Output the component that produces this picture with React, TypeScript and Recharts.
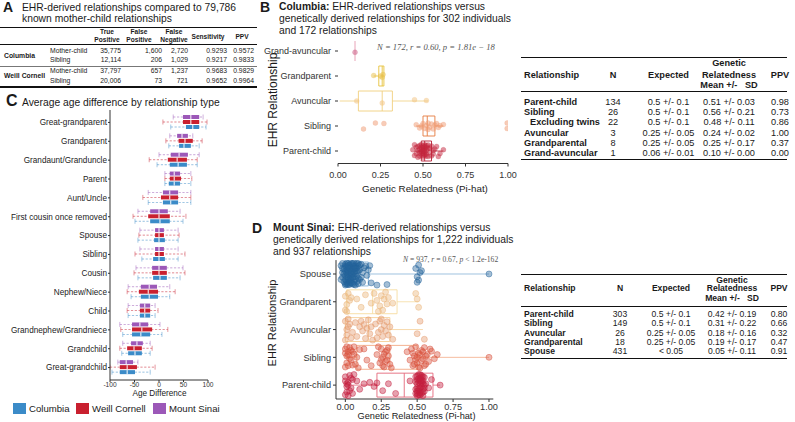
import React from "react";
import {
  ScatterChart,
  Scatter,
  ComposedChart,
  Bar,
  XAxis,
  YAxis,
  ReferenceArea,
  ReferenceLine,
} from "recharts";

// ---------- Panel A: summary table ----------
const aSites = ["Columbia", "Weill Cornell"];
const aRelations = ["Mother-child", "Sibling", "Mother-child", "Sibling"];
const aTruePositive = [35775, 12114, 37797, 20006];
const aFalsePositive = [1600, 206, 657, 73];
const aFalseNegative = [2720, 1029, 1237, 721];
const aSensitivity = ["0.9293", "0.9217", "0.9683", "0.9652"];
const aPpv = ["0.9572", "0.9833", "0.9829", "0.9964"];

// ---------- Panel B: Columbia relatedness ----------
const bCategories = ["Parent-child", "Sibling", "Avuncular", "Grandparent", "Grand-avuncular"];
// [low whisker, q1, median, q3, high whisker]
const bBoxes = [
  [0.45, 0.49, 0.51, 0.55, 0.62],
  [0.46, 0.5, 0.525, 0.57, 0.62],
  [0.01, 0.12, 0.26, 0.32, 0.53],
  [0.21, 0.24, 0.26, 0.27, 0.27],
  [0.1, 0.1, 0.1, 0.1, 0.1],
];
// points: [pi-hat, vertical jitter]
const bParentChild = [
  [0.5, 0.05], [0.49, -0.12], [0.51, 0.18], [0.48, 0.22], [0.52, -0.2], [0.47, 0.02], [0.53, 0.1],
  [0.5, -0.25], [0.46, 0.15], [0.54, -0.05], [0.49, 0.26], [0.51, -0.15], [0.55, 0.2], [0.48, -0.08],
  [0.52, 0.03], [0.5, 0.12], [0.45, -0.18], [0.57, 0.08], [0.49, -0.02], [0.51, 0.25], [0.53, -0.22],
  [0.47, -0.25], [0.56, -0.12], [0.5, 0.2], [0.52, 0.15], [0.48, 0.08], [0.58, 0.18], [0.6, -0.1],
  [0.44, 0.05], [0.51, -0.06], [0.49, 0.15], [0.53, 0.24], [0.46, -0.1], [0.55, -0.2], [0.5, -0.1],
  [0.52, -0.12], [0.62, 0.05], [0.59, -0.22], [0.48, -0.2], [0.51, 0.08], [0.5, 0.0], [0.54, 0.12],
  [0.47, 0.18], [0.56, 0.02], [0.45, 0.25], [0.49, 0.05], [0.52, 0.22], [0.5, -0.18], [0.51, 0.0],
];
const bSibling = [
  [0.15, -0.12], [0.22, 0.12], [0.27, 0.1], [0.46, 0.05], [0.48, -0.08], [0.5, 0.1], [0.51, -0.1],
  [0.52, 0.02], [0.53, 0.12], [0.54, -0.05], [0.55, 0.08], [0.56, -0.12], [0.57, 0.04], [0.58, 0.1],
  [0.59, -0.06], [0.6, 0.02], [0.49, 0.0], [0.53, -0.14], [0.62, 0.06], [0.995, 0.12], [0.995, -0.1],
];
const bAvuncular = [[0.11, 0.0], [0.26, -0.08], [0.45, 0.05], [0.52, 0.02]];
const bGrandparent = [[0.21, 0.02], [0.26, -0.05], [0.265, 0.06], [0.25, 0.0]];
const bGrandAvuncular = [[0.1, -0.05]];
const bPoints = [bParentChild, bSibling, bAvuncular, bGrandparent, bGrandAvuncular];
const bPointColors = ["#c4263d", "#f09a72", "#f2c27e", "#e8c04a", "#c9567f"];
const bBoxColors = ["#b51f35", "#e57c3e", "#f0cf7e", "#e6c23c", "#e59ab0"];

// ---------- Panel C: age difference ----------
const cCategories = [
  "Great-grandparent", "Grandparent", "Grandaunt/Granduncle", "Parent", "Aunt/Uncle",
  "First cousin once removed", "Spouse", "Sibling", "Cousin", "Nephew/Niece", "Child",
  "Grandnephew/Grandniece", "Grandchild", "Great-grandchild",
];
const cColumbia = [
  [24, 55, 69, 82, 96], [20, 41, 51, 65, 82], [-4, 22, 39, 57, 78], [12, 20, 31, 43, 65],
  [-22, 8, 24, 39, 65], [-49, -18, 2, 22, 49], [-43, -10, 0, 12, 39], [-35, -12, 0, 12, 39],
  [-43, -12, 2, 16, 43], [-57, -37, -20, -2, 22], [-63, -39, -29, -18, -8], [-74, -55, -37, -18, 6],
  [-76, -63, -49, -35, -18], [-96, -80, -65, -49, -18],
];
const cWeillCornell = [
  [8, 49, 65, 82, 98], [14, 40, 53, 69, 88], [-20, 18, 37, 57, 78], [12, 22, 31, 45, 67],
  [-33, 4, 22, 39, 65], [-53, -22, 0, 22, 55], [-41, -8, 0, 10, 41], [-49, -8, 0, 10, 53],
  [-51, -14, 0, 16, 53], [-65, -41, -22, -2, 33], [-65, -39, -29, -18, -2], [-78, -55, -35, -14, 18],
  [-80, -65, -51, -35, -14], [-100, -80, -65, -45, -8],
];
const cMountSinai = [
  [29, 49, 65, 82, 90], [22, 37, 47, 59, 69], [0, 24, 41, 59, 82], [12, 22, 31, 43, 65],
  [-22, 8, 22, 39, 65], [-43, -18, 0, 18, 43], [-39, -8, 0, 10, 39], [-39, -8, 0, 10, 39],
  [-47, -14, 0, 16, 49], [-63, -37, -20, -4, 22], [-63, -39, -29, -18, -8], [-80, -55, -39, -22, 2],
  [-74, -57, -45, -33, -18], [-84, -80, -67, -53, -43],
];
const cSites = ["Columbia", "Weill Cornell", "Mount Sinai"];
const cColors = ["#3b8bc8", "#c9202f", "#9c58b8"];
const cTicks = [-100, -50, 0, 50, 100];

// ---------- Panel D: Mount Sinai relatedness ----------
const dCategories = ["Parent-child", "Sibling", "Avuncular", "Grandparent", "Spouse"];
const dBoxes = [
  [0.05, 0.22, 0.41, 0.61, 0.66],
  [0.0, 0.08, 0.31, 0.5, 1.0],
  [0.0, 0.0, 0.16, 0.31, 0.54],
  [0.0, 0.01, 0.19, 0.36, 0.51],
  [0.0, 0.0, 0.02, 0.16, 1.0],
];
const dParentChild = [
  [0.0, 0.3], [0.01, -0.25], [0.02, 0.1], [0.0, -0.35], [0.03, 0.35], [0.01, 0.05], [0.04, -0.1],
  [0.02, -0.38], [0.05, 0.2], [0.03, -0.2], [0.0, 0.15], [0.06, 0.38], [0.01, -0.05], [0.04, 0.25],
  [0.02, 0.0], [0.05, -0.3], [0.08, 0.15], [0.1, -0.15], [0.13, 0.05], [0.17, 0.1], [0.2, -0.05],
  [0.22, 0.08], [0.26, -0.2], [0.3, 0.05], [0.35, -0.3], [0.45, 0.15], [0.49, 0.3], [0.5, -0.3],
  [0.51, 0.1], [0.52, -0.1], [0.53, 0.35], [0.54, -0.38], [0.5, 0.2], [0.51, -0.2], [0.52, 0.25],
  [0.53, -0.05], [0.54, 0.15], [0.55, 0.0], [0.5, 0.05], [0.51, 0.38], [0.52, -0.28], [0.53, 0.18],
  [0.49, -0.15], [0.55, -0.22], [0.5, -0.38], [0.52, 0.05], [0.54, 0.3], [0.51, -0.35], [0.53, 0.1],
  [0.49, 0.12], [0.55, 0.28], [0.5, -0.1], [0.52, 0.38], [0.54, -0.15], [0.51, 0.22], [0.53, -0.3],
  [0.56, 0.05], [0.58, -0.1], [0.6, 0.2], [0.66, 0.0], [0.5, 0.32], [0.52, -0.36], [0.54, 0.05],
  [0.51, -0.12], [0.53, 0.28], [0.55, -0.1], [0.5, -0.22], [0.52, 0.15], [0.49, -0.3], [0.54, -0.25],
];
const dSibling = [
  [0.0, 0.3], [0.01, -0.2], [0.02, 0.1], [0.0, -0.35], [0.03, 0.35], [0.01, 0.05], [0.04, -0.1],
  [0.02, -0.3], [0.05, 0.2], [0.03, -0.05], [0.06, 0.38], [0.0, 0.15], [0.07, -0.25], [0.04, 0.25],
  [0.08, 0.0], [0.02, 0.2], [0.09, -0.38], [0.05, -0.28], [0.01, 0.38], [0.06, 0.12], [0.1, 0.28],
  [0.15, -0.1], [0.13, 0.3], [0.22, 0.1], [0.24, -0.2], [0.25, 0.3], [0.26, 0.0], [0.27, -0.35],
  [0.28, 0.2], [0.29, -0.1], [0.3, 0.35], [0.31, -0.25], [0.27, 0.12], [0.25, -0.08], [0.29, 0.25],
  [0.26, -0.3], [0.28, -0.15], [0.3, 0.05], [0.23, 0.38], [0.32, -0.38], [0.18, -0.3], [0.43, 0.2],
  [0.45, -0.1], [0.46, 0.3], [0.47, -0.3], [0.48, 0.05], [0.49, 0.38], [0.5, -0.2], [0.51, 0.15],
  [0.52, -0.38], [0.53, 0.25], [0.54, -0.05], [0.55, 0.35], [0.56, -0.25], [0.57, 0.1], [0.58, -0.15],
  [0.59, 0.3], [0.5, 0.0], [0.52, 0.1], [0.48, -0.25], [0.54, 0.2], [0.51, -0.35], [0.47, 0.15],
  [0.53, -0.12], [0.56, 0.05], [0.49, -0.08], [0.55, -0.3], [0.6, 0.22], [0.62, -0.05], [0.64, 0.1],
  [1.0, 0.0],
];
const dAvuncular = [
  [0.0, 0.3], [0.01, -0.2], [0.02, 0.1], [0.0, -0.38], [0.03, 0.2], [0.01, 0.0], [0.04, -0.3],
  [0.02, 0.38], [0.05, -0.1], [0.07, 0.25], [0.08, -0.25], [0.1, 0.1], [0.11, 0.3], [0.12, -0.05],
  [0.13, 0.18], [0.14, -0.32], [0.15, 0.05], [0.16, 0.35], [0.17, -0.15], [0.18, 0.1], [0.19, -0.38],
  [0.21, 0.2], [0.23, -0.1], [0.24, 0.3], [0.25, 0.0], [0.26, -0.25], [0.27, 0.15], [0.28, -0.05],
  [0.29, 0.28], [0.3, -0.2], [0.31, 0.1], [0.33, -0.35], [0.25, 0.38], [0.22, -0.3], [0.5, -0.15],
  [0.52, 0.3], [0.55, -0.35],
];
const dGrandparent = [
  [0.0, 0.2], [0.01, -0.1], [0.02, 0.3], [0.0, -0.3], [0.03, 0.05], [0.01, -0.35], [0.04, 0.15],
  [0.08, 0.1], [0.11, -0.2], [0.14, 0.25], [0.18, -0.05], [0.2, 0.3], [0.22, 0.05], [0.24, -0.15],
  [0.25, 0.22], [0.26, -0.3], [0.27, 0.1], [0.28, 0.35], [0.29, -0.08], [0.3, 0.15], [0.23, -0.35],
  [0.33, -0.05], [0.5, 0.1], [0.51, -0.2], [0.49, 0.3],
];
const dSpouse = [
  [0.0, 0.35], [0.01, -0.3], [0.02, 0.1], [0.03, -0.05], [0.0, -0.2], [0.04, 0.25], [0.05, -0.35],
  [0.02, 0.38], [0.06, 0.05], [0.01, 0.15], [0.03, -0.25], [0.07, 0.3], [-0.01, 0.0], [0.04, -0.15],
  [0.08, -0.28], [0.02, -0.38], [0.05, 0.18], [0.09, 0.1], [0.0, 0.28], [0.06, -0.1], [0.03, 0.32],
  [-0.02, -0.12], [0.07, -0.4], [0.01, 0.05], [0.1, -0.2], [0.04, 0.0], [0.08, 0.22], [0.02, -0.22],
  [0.11, 0.35], [0.05, -0.02], [-0.02, 0.2], [0.06, 0.4], [0.09, -0.35], [0.03, 0.12], [0.12, 0.05],
  [0.0, -0.35], [0.07, 0.12], [0.01, -0.1], [0.04, 0.38], [0.1, 0.15], [-0.03, 0.3], [0.05, 0.3],
  [0.08, -0.08], [0.02, 0.22], [0.06, -0.28], [0.03, -0.38], [0.11, -0.12], [0.0, 0.1], [0.09, 0.28],
  [0.07, -0.18], [-0.01, -0.28], [0.04, -0.32], [0.13, 0.22], [0.01, 0.4], [0.06, 0.18], [0.12, -0.3],
  [0.02, 0.0], [0.08, 0.38], [0.05, 0.1], [0.03, -0.15], [-0.02, 0.38], [0.0, -0.05], [0.01, 0.25],
  [0.02, -0.12], [0.03, 0.2], [0.04, -0.22], [0.05, 0.38], [0.06, -0.38], [0.07, 0.0], [0.08, 0.1],
  [0.09, -0.15], [0.1, 0.32], [-0.01, 0.18], [0.0, -0.4], [0.02, 0.3], [0.03, -0.3], [0.05, -0.12],
  [0.06, 0.28], [0.07, 0.22], [0.04, 0.08], [-0.03, -0.2], [-0.02, 0.05], [0.01, -0.38], [0.09, 0.38],
  [0.14, 0.28], [0.15, -0.05], [0.16, 0.15], [0.18, -0.32], [0.17, 0.3], [0.22, -0.4], [0.29, -0.38],
  [0.49, 0.2], [0.5, -0.1], [0.51, 0.32], [0.5, -0.3], [0.52, 0.05], [0.51, -0.22], [0.53, 0.12],
  [1.0, 0.0],
];
const dPoints = [dParentChild, dSibling, dAvuncular, dGrandparent, dSpouse];
const dPointColors = ["#c41e3f", "#d9533e", "#e59a6d", "#eab67a", "#23639a"];
const dBoxColors = ["#e4687a", "#f3a985", "#f5cf97", "#f6dca0", "#86b3d8"];

// ---------- tables B and D ----------
const bRel = ["Parent-child", "Sibling", "Excluding twins", "Avuncular", "Grandparental", "Grand-avuncular"];
const bN = [134, 26, 22, 3, 8, 1];
const bExpected = ["0.5 +/- 0.1", "0.5 +/- 0.1", "0.5 +/- 0.1", "0.25 +/- 0.05", "0.25 +/- 0.05", "0.06 +/- 0.01"];
const bMeanSd = ["0.51 +/- 0.03", "0.56 +/- 0.21", "0.48 +/- 0.11", "0.24 +/- 0.02", "0.25 +/- 0.17", "0.10 +/- 0.00"];
const bPpv = ["0.98", "0.73", "0.86", "1.00", "0.37", "0.00"];

const dRel = ["Parent-child", "Sibling", "Avuncular", "Grandparental", "Spouse"];
const dN = [303, 149, 26, 18, 431];
const dExpected = ["0.5 +/- 0.1", "0.5 +/- 0.1", "0.25 +/- 0.05", "0.25 +/- 0.05", "< 0.05"];
const dMeanSd = ["0.42 +/- 0.19", "0.31 +/- 0.22", "0.18 +/- 0.16", "0.19 +/- 0.17", "0.05 +/- 0.11"];
const dPpv = ["0.80", "0.66", "0.32", "0.47", "0.91"];

const SANS = '"Liberation Sans", Arial, Helvetica, sans-serif';
const SERIF = '"Liberation Serif", "DejaVu Serif", serif';
const AXIS = "#333";

function T({ x, y, size = 10, align = "left", weight = 400, color = "#1a1a1a", family, italic, rotate, children }: any) {
  const tx = align === "left" ? "0" : align === "center" ? "-50%" : "-100%";
  return (
    <div
      style={{
        position: "absolute",
        left: x,
        top: y,
        transform: `translate(${tx}, -50%)${rotate ? ` rotate(${rotate}deg)` : ""}`,
        fontSize: size,
        fontWeight: weight,
        color,
        lineHeight: 0.9,
        whiteSpace: "pre",
        fontFamily: family,
        fontStyle: italic ? "italic" : undefined,
      }}
    >
      {children}
    </div>
  );
}

function Rule({ x, y, w, h = 1, color = "#111" }: any) {
  return <div style={{ position: "absolute", left: x, top: y, width: w, height: h, background: color }} />;
}

// box + whisker drawn on a range bar ([low, high]) of panel C
const boxShape = (key: string, color: string) => (props: any) => {
  const { x, y, width, height, payload } = props;
  const [lo, q1, med, q3, hi] = payload[key + "Stats"];
  const left = Math.min(x, x + width);
  const w = Math.abs(width);
  const px = (v: number) => left + ((v - lo) / (hi - lo)) * w;
  const cy = y + height / 2;
  return (
    <g>
      <line x1={px(lo)} x2={px(hi)} y1={cy} y2={cy} stroke={color} strokeWidth={0.8} strokeDasharray="2.2 1.6" opacity={0.65} />
      <line x1={px(lo)} x2={px(lo)} y1={y - 0.5} y2={y + height + 0.5} stroke={color} strokeWidth={0.7} opacity={0.65} />
      <line x1={px(hi)} x2={px(hi)} y1={y - 0.5} y2={y + height + 0.5} stroke={color} strokeWidth={0.7} opacity={0.65} />
      <rect x={px(q1)} y={y} width={px(q3) - px(q1)} height={height} fill={color} />
      <line x1={px(med)} x2={px(med)} y1={y} y2={y + height} stroke="#fff" strokeWidth={1} />
    </g>
  );
};

// plain single-line category tick (no word wrapping)
const catTick = (size: number) => (props: any) => (
  <text x={props.x} y={props.y} dy="0.355em" textAnchor="end" fontSize={size} fill="#222">
    {props.payload.value}
  </text>
);

function RelatednessPlot(p: any) {
  const { cats, boxes, points, pointColors, boxColors, r, half, xDomain, width, height, margin, xHeight, yWidth, yLine, font, xTickMargin, yTickMargin, ringed } = p;
  return (
    <ScatterChart width={width} height={height} margin={margin}>
      <XAxis
        type="number"
        dataKey="x"
        domain={xDomain}
        allowDataOverflow
        ticks={[0, 0.25, 0.5, 0.75, 1]}
        interval={0}
        tickFormatter={(v: number) => v.toFixed(2)}
        tick={{ fontSize: font, fill: AXIS }}
        tickSize={3}
        tickMargin={xTickMargin}
        axisLine={{ stroke: AXIS }}
        tickLine={{ stroke: AXIS }}
        height={xHeight}
      />
      <YAxis
        type="number"
        dataKey="y"
        domain={[0.5, 5.5]}
        allowDataOverflow
        ticks={[1, 2, 3, 4, 5]}
        interval={0}
        tickFormatter={(v: number) => cats[v - 1]}
        tick={{ fontSize: font, fill: AXIS }}
        tickSize={3}
        tickMargin={yTickMargin}
        axisLine={yLine ? { stroke: AXIS } : false}
        tickLine={{ stroke: AXIS }}
        width={yWidth}
      />
      {boxes.map((b: number[], i: number) => {
        const c = i + 1;
        const col = boxColors[i];
        return [
          <ReferenceLine key={`wl${i}`} segment={[{ x: b[0], y: c }, { x: b[1], y: c }]} stroke={col} strokeWidth={0.8} ifOverflow="visible" />,
          <ReferenceLine key={`wh${i}`} segment={[{ x: b[3], y: c }, { x: b[4], y: c }]} stroke={col} strokeWidth={0.8} ifOverflow="visible" />,
          <ReferenceArea key={`bx${i}`} x1={b[1]} x2={b[3]} y1={c - half} y2={c + half} fill="#fff" fillOpacity={0} stroke={col} strokeWidth={0.9} ifOverflow="visible" />,
          <ReferenceLine key={`md${i}`} segment={[{ x: b[2], y: c - half }, { x: b[2], y: c + half }]} stroke={col} strokeWidth={0.9} ifOverflow="visible" />,
        ];
      })}
      {points.map((pts: number[][], i: number) => {
        const col = pointColors[i];
        return (
          <Scatter
            key={`s${i}`}
            data={pts.map(([x, j]) => ({ x, y: i + 1 + j }))}
            isAnimationActive={false}
            shape={(sp: any) => (
              <circle
                cx={sp.cx}
                cy={sp.cy}
                r={r}
                fill={col}
                fillOpacity={ringed ? 0.42 : 0.5}
                stroke={col}
                strokeOpacity={ringed ? 0.75 : 0.3}
                strokeWidth={0.6}
              />
            )}
          />
        );
      })}
    </ScatterChart>
  );
}

const cData = cCategories.map((name, i) => ({
  name,
  ms: [cMountSinai[i][0], cMountSinai[i][4]],
  msStats: cMountSinai[i],
  wc: [cWeillCornell[i][0], cWeillCornell[i][4]],
  wcStats: cWeillCornell[i],
  cu: [cColumbia[i][0], cColumbia[i][4]],
  cuStats: cColumbia[i],
}));

export default function App() {
  const aRowY = [51, 60, 71, 81];
  const aCols = [
    { x: 121, vals: aTruePositive.map((v) => v.toLocaleString("en-US")) },
    { x: 162, vals: aFalsePositive.map((v) => v.toLocaleString("en-US")) },
    { x: 188, vals: aFalseNegative.map((v) => v.toLocaleString("en-US")) },
    { x: 227, vals: aSensitivity },
    { x: 254, vals: aPpv },
  ];
  const bRowY = bRel.map((_, i) => 101.6 + i * 10.35);
  const dRowY = [315, 324.3, 333.6, 343, 352.3];
  const bf = 9.2;
  const df = 8.6;

  return (
    <div
      style={{
        position: "absolute",
        left: 0,
        top: 0,
        width: 795,
        height: 422,
        background: "#fff",
        fontFamily: SANS,
        overflow: "hidden",
        color: "#1a1a1a",
      }}
    >
      {/* ---------- A ---------- */}
      <T x={3} y={7} size={14} weight={700}>A</T>
      <T x={22} y={7.5} size={10.3}>EHR-derived relationships compared to 79,786</T>
      <T x={22} y={18.5} size={10.3}>known mother-child relationships</T>
      <Rule x={0} y={27} w={257} h={1} />
      {[["True", "Positive", 107], ["False", "Positive", 139], ["False", "Negative", 174]].map(([l1, l2, x]) => (
        <React.Fragment key={String(l1) + l2}>
          <T x={x} y={32} size={6.6} weight={700} align="center">{l1}</T>
          <T x={x} y={40} size={6.6} weight={700} align="center">{l2}</T>
        </React.Fragment>
      ))}
      <T x={208} y={36.5} size={6.6} weight={700} align="center">Sensitivity</T>
      <T x={242} y={36.5} size={6.6} weight={700} align="center">PPV</T>
      <Rule x={0} y={43.5} w={257} h={1.5} />
      <T x={4} y={55.5} size={6.8} weight={700}>{aSites[0]}</T>
      <T x={4} y={76} size={6.8} weight={700}>{aSites[1]}</T>
      {aRelations.map((rel, i) => (
        <React.Fragment key={`ar${i}`}>
          <T x={50} y={aRowY[i]} size={6.8}>{rel}</T>
          {aCols.map((c, k) => (
            <T key={k} x={c.x} y={aRowY[i]} size={6.8} align="right">{c.vals[i]}</T>
          ))}
        </React.Fragment>
      ))}
      <Rule x={0} y={65.5} w={257} h={1} color="#777" />
      <Rule x={0} y={86} w={257} h={2} />

      {/* ---------- B ---------- */}
      <T x={260} y={7} size={14} weight={700}>B</T>
      <T x={279} y={6.5} size={10.3}><b>Columbia:</b> EHR-derived relationships versus</T>
      <T x={279} y={18.5} size={10.3}>genetically derived relationships for 302 individuals</T>
      <T x={279} y={30.5} size={10.3}>and 172 relationships</T>
      <div style={{ position: "absolute", left: 230, top: 30 }}>
        <RelatednessPlot
          cats={bCategories}
          boxes={bBoxes}
          points={bPoints}
          pointColors={bPointColors}
          boxColors={bBoxColors}
          r={2.5}
          half={0.4}
          xDomain={[0, 1]}
          width={290}
          height={170}
          xHeight={36.5}
          margin={{ top: 8.5, right: 12, bottom: 0, left: 0 }}
          yWidth={108}
          yLine={false}
          font={9}
          xTickMargin={5}
          yTickMargin={4}
          ringed={false}
        />
      </div>
      <T x={377} y={48} size={8.6} family={SERIF} italic color="#555">N = 172, r = 0.60, p = 1.81e − 18</T>
      <T x={425} y={189} size={9.8} align="center">Genetic Relatedness (Pi-hat)</T>
      <T x={273} y={100} size={12} align="center" rotate={-90}>EHR Relationship</T>

      {/* ---------- table B ---------- */}
      <Rule x={521} y={56.5} w={266} h={1.3} />
      <T x={729} y={63} size={bf} weight={700} align="center">Genetic</T>
      <T x={524} y={75} size={bf} weight={700}>Relationship</T>
      <T x={613} y={75} size={bf} weight={700} align="center">N</T>
      <T x={668.5} y={75} size={bf} weight={700} align="center">Expected</T>
      <T x={729} y={75} size={bf} weight={700} align="center">Relatedness</T>
      <T x={780} y={75} size={bf} weight={700} align="center">PPV</T>
      <T x={729} y={84.5} size={bf} weight={700} align="center">{"Mean +/-   SD"}</T>
      <Rule x={521} y={91} w={266} h={1} />
      {bRel.map((rel, i) => (
        <React.Fragment key={`br${i}`}>
          <T x={i === 2 ? 530 : 524} y={bRowY[i]} size={bf} weight={700}>{rel}</T>
          <T x={613} y={bRowY[i]} size={bf} align="center">{bN[i]}</T>
          <T x={668.5} y={bRowY[i]} size={bf} align="center">{bExpected[i]}</T>
          <T x={729} y={bRowY[i]} size={bf} align="center">{bMeanSd[i]}</T>
          <T x={780} y={bRowY[i]} size={bf} align="center">{bPpv[i]}</T>
        </React.Fragment>
      ))}
      <Rule x={521} y={158.7} w={266} h={1.5} />

      {/* ---------- C ---------- */}
      <T x={6} y={101} size={16} weight={700}>C</T>
      <T x={22} y={103} size={10.3}>Average age difference by relationship type</T>
      <div style={{ position: "absolute", left: 0, top: 100 }}>
        <ComposedChart
          layout="vertical"
          width={230}
          height={292}
          data={cData}
          margin={{ top: 10, right: 22, bottom: 0, left: 0 }}
          barSize={4}
          barGap={1}
        >
          <XAxis
            type="number"
            domain={[-100, 100]}
            allowDataOverflow
            ticks={cTicks}
            interval={0}
            height={12}
            tickSize={2}
            tickMargin={0}
            tick={{ fontSize: 6.6, fill: AXIS }}
            axisLine={{ stroke: AXIS }}
            tickLine={{ stroke: AXIS }}
          />
          <YAxis
            type="category"
            dataKey="name"
            width={110}
            interval={0}
            padding={{ top: 3, bottom: 3 }}
            tickSize={2}
            tickMargin={1}
            tick={catTick(8.2)}
            axisLine={{ stroke: AXIS }}
            tickLine={{ stroke: AXIS }}
          />
          <Bar dataKey="ms" shape={boxShape("ms", cColors[2])} isAnimationActive={false} />
          <Bar dataKey="wc" shape={boxShape("wc", cColors[1])} isAnimationActive={false} />
          <Bar dataKey="cu" shape={boxShape("cu", cColors[0])} isAnimationActive={false} />
        </ComposedChart>
      </div>
      <T x={159.5} y={394} size={8.2} align="center">Age Difference</T>
      {[13, 76, 153].map((x, i) => (
        <React.Fragment key={`lg${i}`}>
          <div style={{ position: "absolute", left: x, top: 402.5, width: 12.5, height: 11, background: cColors[i] }} />
          <T x={x + 16} y={408.5} size={9.6}>{cSites[i]}</T>
        </React.Fragment>
      ))}

      {/* ---------- D ---------- */}
      <T x={252} y={228} size={14} weight={700}>D</T>
      <T x={273} y={227.5} size={10.3}><b>Mount Sinai:</b> EHR-derived relationships versus</T>
      <T x={273} y={239.5} size={10.3}>genetically derived relationships for 1,222 individuals</T>
      <T x={273} y={251.5} size={10.3}>and 937 relationships</T>
      <div style={{ position: "absolute", left: 230, top: 250 }}>
        <RelatednessPlot
          cats={dCategories}
          boxes={dBoxes}
          points={dPoints}
          pointColors={dPointColors}
          boxColors={dBoxColors}
          r={3}
          half={0.43}
          xDomain={[-0.065, 1.03]}
          width={290}
          height={172}
          xHeight={23}
          margin={{ top: 10.1, right: 26.7, bottom: 0, left: 0 }}
          yWidth={106}
          yLine={true}
          font={9.2}
          xTickMargin={1}
          yTickMargin={2}
          ringed={true}
        />
      </div>
      <T x={403} y={260} size={7.6} family={SERIF} color="#555"><i>N</i> = 937, <i>r</i> = 0.67, <i>p</i> {"<"} 1.2e-162</T>
      <T x={416.5} y={416} size={9.2} align="center">Genetic Relatedness (Pi-hat)</T>
      <T x={273} y={322.5} size={11} align="center" rotate={-90}>EHR Relationship</T>

      {/* ---------- table D ---------- */}
      <Rule x={521} y={273.7} w={266} h={1.3} />
      <T x={732} y={280.5} size={df} weight={700} align="center">Genetic</T>
      <T x={524} y={289} size={df} weight={700}>Relationship</T>
      <T x={620} y={289} size={df} weight={700} align="center">N</T>
      <T x={671} y={289} size={df} weight={700} align="center">Expected</T>
      <T x={732} y={289} size={df} weight={700} align="center">Relatedness</T>
      <T x={779} y={289} size={df} weight={700} align="center">PPV</T>
      <T x={732} y={299} size={df} weight={700} align="center">{"Mean +/-   SD"}</T>
      <Rule x={521} y={305.5} w={266} h={1} />
      {dRel.map((rel, i) => (
        <React.Fragment key={`dr${i}`}>
          <T x={524} y={dRowY[i]} size={df} weight={700}>{rel}</T>
          <T x={620} y={dRowY[i]} size={df} align="center">{dN[i]}</T>
          <T x={671} y={dRowY[i]} size={df} align="center">{dExpected[i]}</T>
          <T x={732} y={dRowY[i]} size={df} align="center">{dMeanSd[i]}</T>
          <T x={779} y={dRowY[i]} size={df} align="center">{dPpv[i]}</T>
        </React.Fragment>
      ))}
      <Rule x={521} y={357.7} w={266} h={1.5} />
    </div>
  );
}
